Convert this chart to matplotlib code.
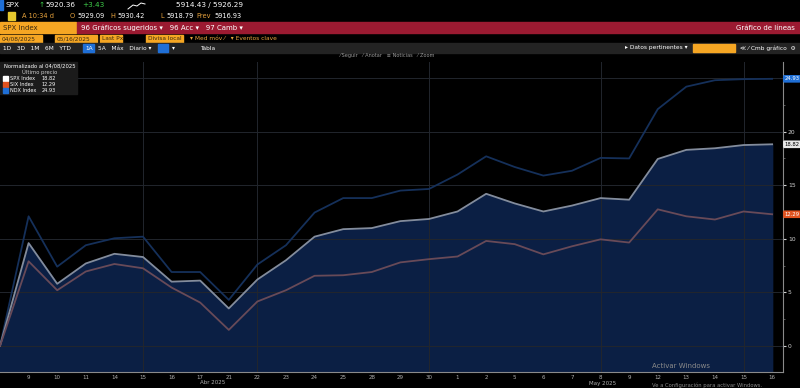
import numpy as np
import matplotlib.pyplot as plt
from matplotlib.patches import Rectangle

# dias de negociacion desde 04/08/2025 hasta 05/16/2025
days = ["8", "9", "10", "11", "14", "15", "16", "17", "21", "22", "23", "24", "25",
        "28", "29", "30", "1", "2", "5", "6", "7", "8", "9", "12", "13", "14", "15", "16"]

# rendimiento normalizado (%)
spx = [0, 9.6, 5.8, 7.7, 8.6, 8.3, 6.0, 6.1, 3.5, 6.2, 8.0, 10.2, 10.9, 11.0,
       11.65, 11.85, 12.55, 14.2, 13.3, 12.55, 13.1, 13.8, 13.65, 17.45, 18.3,
       18.45, 18.75, 18.82]
six = [0, 7.9, 5.2, 6.95, 7.65, 7.25, 5.45, 4.05, 1.5, 4.15, 5.2, 6.55, 6.6, 6.9,
       7.8, 8.1, 8.35, 9.8, 9.5, 8.55, 9.3, 9.95, 9.65, 12.75, 12.1, 11.8,
       12.55, 12.29]
ndx = [0, 12.1, 7.4, 9.4, 10.05, 10.2, 6.9, 6.9, 4.3, 7.6, 9.4, 12.45, 13.8, 13.8,
       14.5, 14.65, 16.0, 17.7, 16.7, 15.9, 16.35, 17.55, 17.5, 22.1, 24.2,
       24.8, 24.9, 24.93]

W, H = 800, 388

def fx(x):
    return x / W

def fy(y):
    return 1 - y / H

fig = plt.figure(figsize=(8, 3.88), dpi=100, facecolor="black")

def box(x, y, w, h, color):
    fig.patches.append(Rectangle((fx(x), fy(y + h)), w / W, h / H,
                                 transform=fig.transFigure, color=color, zorder=0))

def txt(x, y, s, color="white", size=5, ha="left", **kw):
    fig.text(fx(x), fy(y), s, color=color, fontsize=size, ha=ha, va="center", **kw)

ORANGE = "#f5a623"
AMBER = "#e8a33d"

# ---- cabecera tipo terminal
box(0, 0, 3, 10, "#1f6fd6")
txt(6, 5, "SPX", size=5.2)
txt(38, 5, "↑", color="#3ecf4a", size=5.2)
txt(45, 5, "5920.36", size=5.2)
txt(82, 5, "+3.43", color="#3ecf4a", size=5.2)
txt(176, 5, "5914.43 / 5926.29", size=5.2)
fig.add_artist(plt.Line2D([fx(128), fx(133), fx(137), fx(141), fx(145)],
                          [fy(9), fy(5), fy(6), fy(3), fy(4)],
                          color="white", lw=0.7))

box(8, 12, 7, 8, "#e6c82e")
txt(22, 16, "A 10:34 d", color=AMBER, size=4.8)
txt(70, 16, "O", color=AMBER, size=4.8)
txt(77, 16, "5929.09", size=4.8)
txt(110, 16, "H", color=AMBER, size=4.8)
txt(117, 16, "5930.42", size=4.8)
txt(160, 16, "L", color=AMBER, size=4.8)
txt(166, 16, "5918.79", size=4.8)
txt(196, 16, "Prev", color=AMBER, size=4.8)
txt(214, 16, "5916.93", size=4.8)

box(0, 22, 76, 11, ORANGE)
txt(3, 27.5, "SPX Index", color="#3a2a10", size=5)
box(77, 22, 723, 11, "#9b1a31")
txt(81, 27.5, "96 Gráficos sugeridos ▾   96 Acc ▾   97 Camb ▾", size=5)
txt(795, 27.5, "Gráfico de líneas", size=5, ha="right")

box(0, 35, 42, 8, ORANGE)
txt(2, 39, "04/08/2025", color="#3a2a10", size=4.2)
box(55, 35, 42, 8, ORANGE)
txt(57, 39, "05/16/2025", color="#3a2a10", size=4.2)
box(100, 35, 22, 8, ORANGE)
txt(102, 39, "Last Px", color="#3a2a10", size=4.2)
box(146, 35, 37, 8, ORANGE)
txt(148, 39, "Divisa local", color="#3a2a10", size=4.2)
txt(190, 39, "▾ Med móv ⁄   ▾ Eventos clave", color=AMBER, size=4.2)

box(0, 43, 800, 10, "#232323")
txt(3, 48, "1D   3D   1M   6M   YTD", size=4.2)
box(83, 44, 11, 8, "#1f6fd6")
txt(85, 48, "1A", size=4.2)
txt(98, 48, "5A   Máx   Diario ▾", size=4.2)
box(158, 44, 10, 8, "#1f6fd6")
txt(172, 48, "▾", size=4.2)
txt(200, 48, "Tabla", size=4.2)
txt(625, 48, "▸ Datos pertinentes ▾", size=4.2)
box(693, 44, 42, 8, ORANGE)
txt(740, 48, "≪ ⁄ Cmb gráfico  ⚙", size=4.2)
txt(340, 56, "⁄ Seguir   ⁄ Anotar   ≡ Noticias   ⁄ Zoom", color="#9a9a9a", size=3.6)

# ---- grafico principal
ax = fig.add_axes([0, fy(372), fx(783), (372 - 62) / H])
ax.set_facecolor("black")
x = np.arange(len(days))

ax.fill_between(x, spx, -5, color="#0b1f44", zorder=1)
ax.plot(x, ndx, color="#15305a", lw=1.3, zorder=3)
ax.plot(x, spx, color="#838c9c", lw=1.3, zorder=3)
ax.plot(x, six, color="#684a58", lw=1.3, zorder=3)

ax.set_xlim(0, 27.38)
ax.set_ylim(-2.43, 26.5)

for g in [0, 5, 10, 15, 20, 25]:
    ax.axhline(g, color="#22262d", lw=0.7, zorder=2)
for gx in [5, 9, 15, 21, 26]:
    ax.axvline(gx, color="#22262d", lw=0.7, zorder=2)

ax.yaxis.tick_right()
ax.set_yticks([0, 5, 10, 15, 20])
ax.set_yticks(np.arange(0, 26, 2.5), minor=True)
ax.tick_params(axis="y", which="major", colors="#d0d0d0", labelsize=4.3,
               length=2, pad=1.5)
ax.tick_params(axis="y", which="minor", colors="#666666", length=1.5)
ax.set_xticks(x[1:])
ax.set_xticklabels(days[1:])
ax.tick_params(axis="x", colors="#b0b0b0", labelsize=4, length=0, pad=2)

for s in ["top", "left"]:
    ax.spines[s].set_visible(False)
ax.spines["right"].set_color("#8a8a8a")
ax.spines["bottom"].set_color("#8a8a8a")
ax.spines["right"].set_linewidth(0.8)
ax.spines["bottom"].set_linewidth(0.8)

txt(213, 383, "Abr 2025", color="#b0b0b0", size=4, ha="center")
txt(603, 383, "May 2025", color="#b0b0b0", size=4, ha="center")

# etiquetas ultimo valor
for val, col, tcol in [(ndx[-1], "#1f6fd6", "white"),
                       (spx[-1], "#e8e8e8", "black"),
                       (six[-1], "#e0521f", "white")]:
    ax.annotate(f"{val:.2f}", xy=(1.0, val), xycoords=("axes fraction", "data"),
                xytext=(1, 0), textcoords="offset points", fontsize=3.8,
                color=tcol, va="center", ha="left", annotation_clip=False,
                bbox=dict(boxstyle="round,pad=0.25", fc=col, ec="none"))

# leyenda
box(0, 62, 77, 32, "#1b1b1b")
txt(4, 66, "Normalizado al 04/08/2025", size=3.8)
txt(22, 72, "Último precio", color="#cccccc", size=3.8)
for i, (name, val, col) in enumerate([("SPX Index", spx[-1], "white"),
                                      ("SIX Index", six[-1], "#e0521f"),
                                      ("NDX Index", ndx[-1], "#1f6fd6")]):
    yy = 78 + i * 6
    box(3, yy - 2.5, 5, 5, col)
    txt(10, yy, name, size=3.6)
    txt(42, yy, f"{val:.2f}", size=3.6)

# marca de agua
txt(652, 366, "Activar Windows", color="#8a8a8a", size=5)
txt(652, 385, "Ve a Configuración para activar Windows.", color="#8a8a8a", size=3.8)

fig.savefig("out.png", dpi=100, facecolor="black")
